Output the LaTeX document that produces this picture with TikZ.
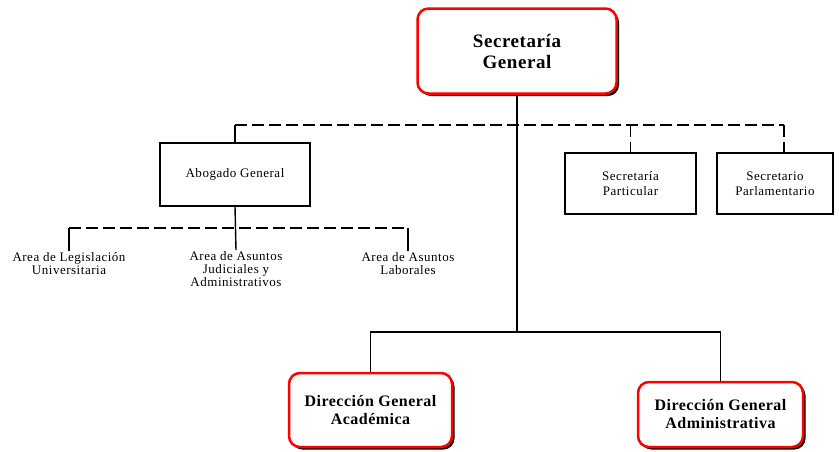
\documentclass[tikz,border=0pt]{standalone}
\usepackage{fontspec}
\setmainfont{Liberation Serif}
\usetikzlibrary{shadows}

\tikzset{
  jefe/.style={draw=red, line width=2.5pt, rounded corners=11pt, fill=white,
    align=center, inner sep=0pt,
    drop shadow={fill=black, opacity=1, shadow xshift=2.5pt, shadow yshift=-2.5pt}},
  oficina/.style={draw=black, line width=1.6pt, fill=white, align=center, inner sep=0pt,
    font=\fontsize{13}{15}\selectfont\addfontfeature{LetterSpace=4}},
  area/.style={align=center, inner sep=1.5pt,
    font=\fontsize{13}{13}\selectfont\addfontfeature{LetterSpace=4}},
  linea/.style={line width=1.4pt},
  guion/.style={line width=1.1pt, dash pattern=on 12pt off 5pt}
}

\begin{document}
\begin{tikzpicture}[x=1pt,y=-1pt]
  %%%%% START %%%%%
  \useasboundingbox[fill=white] (0,0) rectangle (839,451);

  \node[jefe, minimum width=199pt, minimum height=85pt,
    font=\bfseries\fontsize{19}{21}\selectfont\addfontfeature{LetterSpace=3}]
    (sg) at (517,51) {Secretaría\\General};

  \node[oficina, minimum width=150pt, minimum height=63pt] (abog) at (235,174.5) {Abogado General};
  \node[oficina, minimum width=131pt, minimum height=61pt] (part) at (630.5,183.5) {Secretaría\\Particular};
  \node[oficina, minimum width=116pt, minimum height=61pt] (parl) at (775,183.5) {Secretario\\Parlamentario};

  \node[area, anchor=north] (leg) at (69,251) {Area de Legislación\\Universitaria};
  \node[area, anchor=north] (jud) at (236,250) {Area de Asuntos\\Judiciales y\\Administrativos};
  \node[area, anchor=north] (lab) at (408,251) {Area de Asuntos\\Laborales};

  \node[jefe, minimum width=163pt, minimum height=74pt,
    font=\bfseries\fontsize{16}{18}\selectfont\addfontfeature{LetterSpace=3}]
    (aca) at (370.5,410) {Dirección General\\Académica};
  \node[jefe, minimum width=165pt, minimum height=65pt,
    font=\bfseries\fontsize{16}{18}\selectfont\addfontfeature{LetterSpace=3}]
    (adm) at (720.5,414.5) {Dirección General\\Administrativa};

  % staff line
  \coordinate (staff) at (517,125);
  \coordinate (parlTop) at (784,125);
  \draw[guion] (abog.north |- staff) -- (parlTop);
  \draw[linea] (abog.north |- staff) -- (abog.north);
  \draw[guion] (part.north |- staff) -- (part.north);
  \draw[guion] (parlTop) -- (parlTop |- parl.north);

  % areas
  \coordinate (areas) at (235,228);
  \draw[guion] (leg.north |- areas) -- (lab.north |- areas);
  \draw[linea] (abog.south) -- (jud.north);
  \draw[linea] (leg.north |- areas) -- (leg.north);
  \draw[linea] (lab.north |- areas) -- (lab.north);

  % line of command
  \coordinate (mando) at (517,332);
  \draw[linea] (sg.south) -- (mando);
  \draw[linea] (aca.north) -- (aca.north |- mando) -- (adm.north |- mando) -- (adm.north);
  %%%%% END %%%%%
\end{tikzpicture}
\end{document}
